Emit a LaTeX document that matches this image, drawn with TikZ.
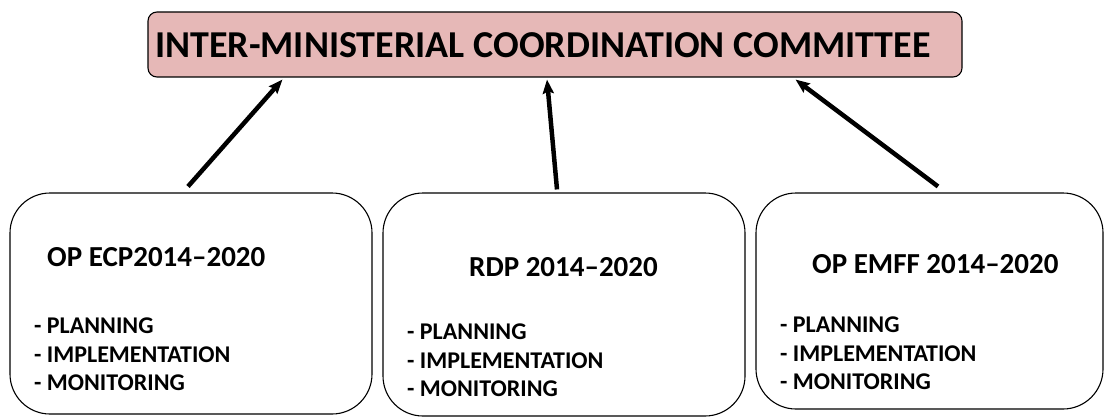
\documentclass[tikz,border=0pt]{standalone}
\usepackage{fontspec}
\setmainfont{Carlito}
\usepackage{xcolor}
\usepackage{tikz}
\usetikzlibrary{positioning,arrows.meta}
\definecolor{iccpink}{RGB}{230,184,183}

\begin{document}
\begin{tikzpicture}
		[x=1pt,y=-1pt,
		every node/.style={inner sep=0pt},
		topbox/.style={draw,fill=iccpink,rounded corners=9pt,line width=1.1pt,minimum width=814pt,minimum height=65pt},
		opbox/.style={draw,rounded corners=40pt,line width=1.1pt},
		title/.style={anchor=west,font=\bfseries\fontsize{38}{42}\selectfont},
		heading/.style={anchor=west,font=\bfseries\fontsize{29}{34}\selectfont},
		tasks/.style={anchor=north west,align=left,font=\bfseries\fontsize{24}{28.5}\selectfont},
		feed/.style={line width=4.5pt,-{Stealth[length=14pt,width=11pt,inset=2pt]}}]
		\useasboundingbox (0,0) rectangle (1107,417);
		% committee
		\node[topbox] (icc) at (555,44.5) {};
		\node[title] (icc-t) at (155,45) {INTER-MINISTERIAL COORDINATION COMMITTEE};
		% programmes
		\node[opbox,minimum width=362pt,minimum height=221pt] (ecp) at (191,303.5) {};
		\node[opbox,minimum width=362pt,minimum height=223pt] (rdp) at (564,304.5) {};
		\node[opbox,minimum width=347pt,minimum height=216pt] (emff) at (929.5,301) {};
		\node[heading] (ecp-h) at (47,257) {OP ECP2014--2020};
		\node[heading] (rdp-h) at (469,267) {RDP 2014--2020};
		\node[heading] (emff-h) at (812,264) {OP EMFF 2014--2020};
		\node[tasks] (ecp-l) at (34,318) {- PLANNING\\- IMPLEMENTATION\\- MONITORING};
		\node[tasks] (rdp-l) at (407,324) {- PLANNING\\- IMPLEMENTATION\\- MONITORING};
		\node[tasks] (emff-l) at (780,317) {- PLANNING\\- IMPLEMENTATION\\- MONITORING};
		% reporting lines
		\draw[feed] ([xshift=-3pt,yshift=6pt]ecp.north) -- ([xshift=135pt,yshift=-2pt]icc.south west);
		\draw[feed] ([xshift=-7pt,yshift=3pt]rdp.north) -- ([xshift=-8pt,yshift=-2pt]icc.south);
		\draw[feed] ([xshift=8.5pt,yshift=6pt]emff.north) -- ([xshift=-167pt,yshift=-2pt]icc.south east);
\end{tikzpicture}
\end{document}
